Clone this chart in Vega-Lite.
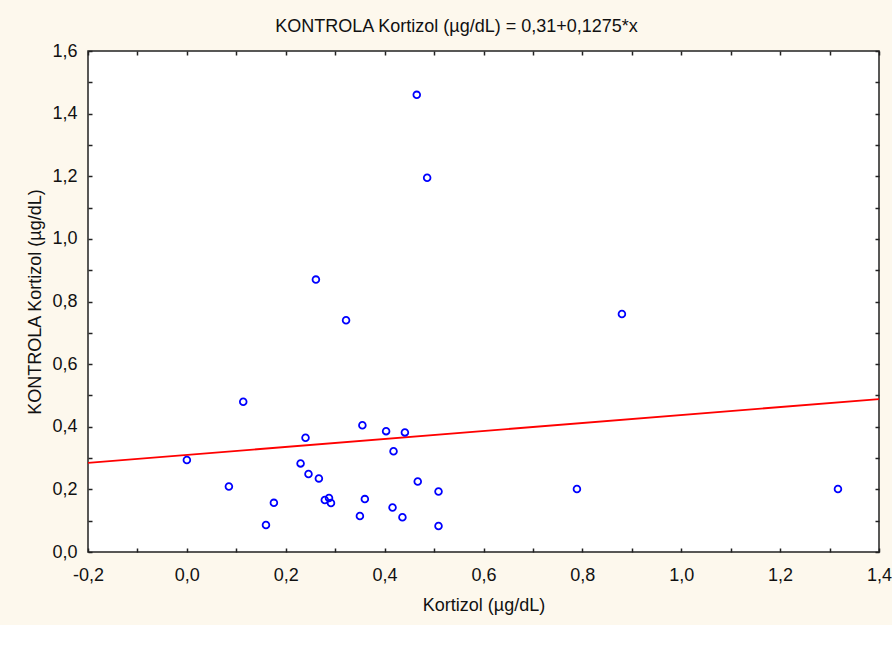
{
  "$schema": "https://vega.github.io/schema/vega-lite/v6.json",
  "autosize": {"type": "none"},
  "width": 791,
  "height": 501,
  "padding": {"left": 88, "top": 51, "right": 13, "bottom": 73},
  "background": "#fdf8ed",
  "title": {
    "text": "KONTROLA Kortizol (µg/dL) = 0,31+0,1275*x",
    "font": "Liberation Sans",
    "fontSize": 18,
    "fontWeight": "normal",
    "color": "#111111",
    "anchor": "middle",
    "baseline": "alphabetic",
    "dx": -27,
    "dy": 23,
    "offset": 15
  },
  "config": {
    "view": {"fill": "white", "stroke": "#222222", "strokeWidth": 1.5},
    "axis": {
      "labelFont": "Liberation Sans",
      "labelFontSize": 18,
      "labelColor": "#111111",
      "titleFont": "Liberation Sans",
      "titleFontSize": 18,
      "titleFontWeight": "normal",
      "titleColor": "#111111",
      "domain": false,
      "tickColor": "#222222",
      "tickWidth": 1.5,
      "tickSize": -4,
      "gridColor": "#dedede",
      "gridWidth": 1.5
    }
  },
  "datasets": {
    "points": [
      {"x": 0.465, "y": 1.46},
      {"x": 0.486, "y": 1.195},
      {"x": 0.261, "y": 0.87},
      {"x": 0.322, "y": 0.74},
      {"x": 0.88, "y": 0.76},
      {"x": 0.114, "y": 0.48},
      {"x": 0.355, "y": 0.405},
      {"x": 0.403, "y": 0.386},
      {"x": 0.441, "y": 0.382},
      {"x": 0.24, "y": 0.365},
      {"x": 0.418, "y": 0.322},
      {"x": 0.0, "y": 0.294},
      {"x": 0.23, "y": 0.283},
      {"x": 0.246, "y": 0.249},
      {"x": 0.267, "y": 0.235},
      {"x": 0.467, "y": 0.225},
      {"x": 0.085, "y": 0.209},
      {"x": 0.509, "y": 0.193},
      {"x": 0.789, "y": 0.201},
      {"x": 1.317, "y": 0.201},
      {"x": 0.176, "y": 0.157},
      {"x": 0.279, "y": 0.166},
      {"x": 0.2875, "y": 0.1725},
      {"x": 0.2915, "y": 0.1565},
      {"x": 0.36, "y": 0.169},
      {"x": 0.416, "y": 0.142},
      {"x": 0.35, "y": 0.115},
      {"x": 0.436, "y": 0.111},
      {"x": 0.16, "y": 0.086},
      {"x": 0.509, "y": 0.083}
    ],
    "fit": [
      {"x": -0.2, "y": 0.2845},
      {"x": 1.4, "y": 0.4885}
    ]
  },
  "resolve": {"axis": {"x": "independent", "y": "independent"}},
  "layer": [
    {
      "data": {"name": "fit"},
      "mark": {"type": "line", "color": "#ff0000", "strokeWidth": 1.8},
      "encoding": {
        "x": {
          "field": "x", "type": "quantitative",
          "scale": {"domain": [-0.2, 1.4], "nice": false, "zero": false},
          "axis": {
            "orient": "top", "title": null, "labels": false, "grid": false,
            "values": [-0.2, -0.1, 0, 0.1, 0.2, 0.3, 0.4, 0.5, 0.6, 0.7, 0.8, 0.9, 1.0, 1.1, 1.2, 1.3, 1.4]
          }
        },
        "y": {
          "field": "y", "type": "quantitative",
          "scale": {"domain": [0, 1.6], "nice": false, "zero": false},
          "axis": {
            "orient": "right", "title": null, "labels": false, "grid": false,
            "values": [0, 0.1, 0.2, 0.3, 0.4, 0.5, 0.6, 0.7, 0.8, 0.9, 1.0, 1.1, 1.2, 1.3, 1.4, 1.5, 1.6]
          }
        }
      }
    },
    {
      "data": {"name": "points"},
      "mark": {"type": "point", "shape": "circle", "filled": false, "color": "#0000ff", "size": 45, "strokeWidth": 1.8, "opacity": 1, "clip": true},
      "encoding": {
        "x": {
          "field": "x", "type": "quantitative",
          "axis": {
            "orient": "bottom",
            "title": "Kortizol (µg/dL)",
            "values": [-0.2, -0.1, 0, 0.1, 0.2, 0.3, 0.4, 0.5, 0.6, 0.7, 0.8, 0.9, 1.0, 1.1, 1.2, 1.3, 1.4],
            "labelExpr": "abs(round(datum.value*10)) % 2 == 0 ? replace(replace(format(datum.value, '.1f'), '.', ','), '−', '-') : ''",
            "gridOpacity": {"condition": {"test": "abs(round(datum.value*10)) % 2 == 0", "value": 1}, "value": 0},
            "labelPadding": 18,
            "titlePadding": 12,
            "labelFlush": false,
            "labelOverlap": false
          }
        },
        "y": {
          "field": "y", "type": "quantitative",
          "axis": {
            "orient": "left",
            "title": "KONTROLA Kortizol (µg/dL)",
            "values": [0, 0.1, 0.2, 0.3, 0.4, 0.5, 0.6, 0.7, 0.8, 0.9, 1.0, 1.1, 1.2, 1.3, 1.4, 1.5, 1.6],
            "labelExpr": "abs(round(datum.value*10)) % 2 == 0 ? replace(format(datum.value, '.1f'), '.', ',') : ''",
            "gridOpacity": {"condition": {"test": "abs(round(datum.value*10)) % 2 == 0", "value": 1}, "value": 0},
            "labelPadding": 15,
            "titlePadding": 7,
            "labelFlush": false,
            "labelOverlap": false
          }
        }
      }
    }
  ]
}
